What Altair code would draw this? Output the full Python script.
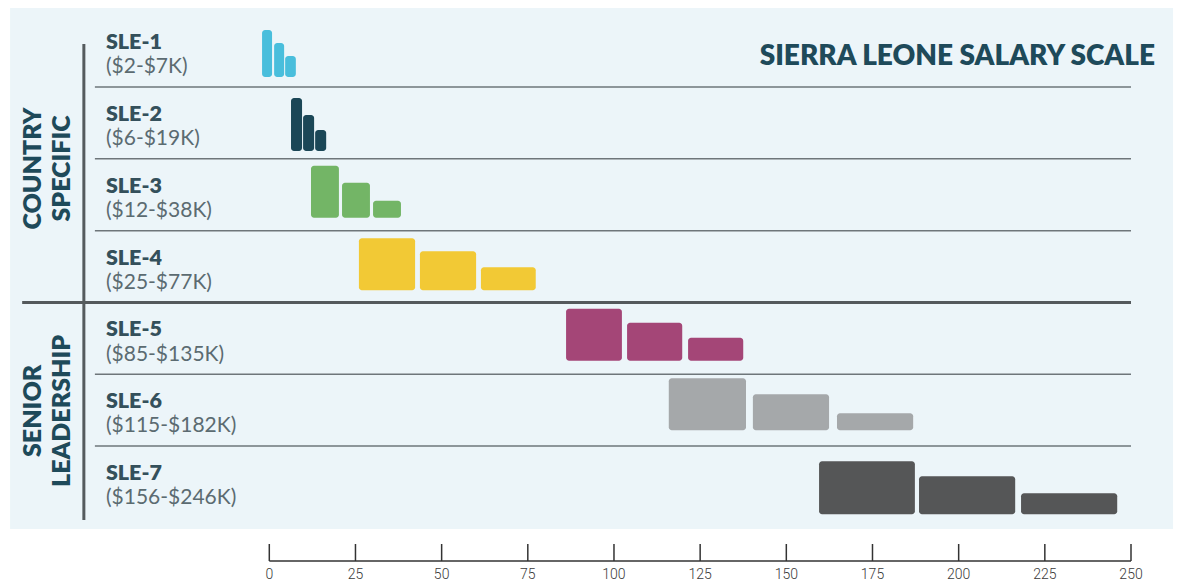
import altair as alt
import pandas as pd

# ---------------- data ----------------
grades = ["SLE-1", "SLE-2", "SLE-3", "SLE-4", "SLE-5", "SLE-6", "SLE-7"]
ranges = ["($2-$7K)", "($6-$19K)", "($12-$38K)", "($25-$77K)",
          "($85-$135K)", "($115-$182K)", "($156-$246K)"]
colors = ["#49BEDC", "#1B4757", "#73B566", "#F2C935", "#A44677", "#A5A8AA", "#555657"]

# three bars per grade (salary thousands)
bar_start = [[-2.1, 1.4, 4.6], [6.3, 9.8, 13.3], [12.1, 21.1, 30.1],
             [26.0, 43.7, 61.4], [86.1, 103.8, 121.5],
             [115.9, 140.3, 164.7], [159.5, 188.5, 218.1]]
bar_end = [[0.8, 4.3, 7.7], [9.5, 13.0, 16.5], [20.2, 29.2, 38.2],
           [42.3, 60.0, 77.3], [102.3, 119.8, 137.5],
           [138.3, 162.4, 186.8], [187.3, 216.4, 246.0]]
# relative bar heights (fraction of a row)
bar_height = [[0.654, 0.473, 0.292], [0.738, 0.501, 0.292], [0.724, 0.487, 0.237],
              [0.724, 0.543, 0.320], [0.724, 0.529, 0.320], [0.724, 0.501, 0.237],
              [0.738, 0.529, 0.292]]

group_lines = [["COUNTRY", "SPECIFIC"], ["SENIOR", "LEADERSHIP"]]
tick_values = [0, 25, 50, 75, 100, 125, 150, 175, 200, 225, 250]
title_text = "SIERRA LEONE SALARY SCALE"

# ---------------- layout constants ----------------
BASE = [0.86, 0.89, 0.82, 0.83, 0.81, 0.78, 0.95]
TEXT_DARK = "#1E4A5A"
LABEL_DARK = "#34505B"
LABEL_LIGHT = "#5B6B71"
FONT = "Lato"
AXIS_FONT = "Roboto"

xs = alt.Scale(domain=[0, 250], nice=False, zero=False)
ys = alt.Scale(domain=[-0.1, 7.6], reverse=True, nice=False, zero=False)


def X(f):
    return alt.X(f, scale=xs, axis=None)


def Y(f):
    return alt.Y(f, scale=ys, axis=None)


rows = []
for r, g in enumerate(grades):
    for i in range(3):
        rows.append({
            "grade": g,
            "start": bar_start[r][i],
            "end": bar_end[r][i],
            "top": r + BASE[r] - bar_height[r][i],
            "bottom": r + BASE[r],
        })
bars_df = pd.DataFrame(rows)

panel = alt.Chart(pd.DataFrame({"px": [-75.2], "px2": [262.2], "py": [-0.1], "py2": [7.154]})
                  ).mark_rect(color="#ECF5F9").encode(
    x=X("px:Q"), x2="px2:Q", y=Y("py:Q"), y2="py2:Q")

bars = alt.Chart(bars_df).mark_rect(cornerRadius=3).encode(
    x=X("start:Q"), x2="end:Q", y=Y("top:Q"), y2="bottom:Q",
    color=alt.Color("grade:N", scale=alt.Scale(domain=grades, range=colors), legend=None),
)

# axis drawn from tick values
tick_df = pd.DataFrame({"t": tick_values, "ty": 7.363, "ty2": 7.6, "ly": 7.795,
                        "lab": [str(v) for v in tick_values]})
ticks = alt.Chart(tick_df).mark_rule(color="#333333", strokeWidth=1.5).encode(
    x=X("t:Q"), y=Y("ty:Q"), y2="ty2:Q")
baseline = alt.Chart(pd.DataFrame({"bx": [0.0], "bx2": [250.0], "by": [7.6]})).mark_rule(
    color="#333333", strokeWidth=1.5).encode(x=X("bx:Q"), x2="bx2:Q", y=Y("by:Q"))
tick_labels = alt.Chart(tick_df).mark_text(
    align="center", baseline="middle", font=AXIS_FONT, fontSize=14, fontWeight=300,
    color="#3a3a3a").encode(x=X("t:Q"), y=Y("ly:Q"), text="lab:N")

thin_sep = alt.Chart(pd.DataFrame({"sy": [1, 2, 3, 5, 6], "sx": -50.6, "sx2": 250.0})).mark_rule(
    color="#6E767A", strokeWidth=1.5).encode(y=Y("sy:Q"), x=X("sx:Q"), x2="sx2:Q")
thick_sep = alt.Chart(pd.DataFrame({"sy": [4], "sx": [-71.7], "sx2": [250.0]})).mark_rule(
    color="#54595C", strokeWidth=3).encode(y=Y("sy:Q"), x=X("sx:Q"), x2="sx2:Q")
vline = alt.Chart(pd.DataFrame({"vx": [-53.8], "vy": [0.401], "vy2": [7.029]})).mark_rule(
    color="#555B5E", strokeWidth=3).encode(x=X("vx:Q"), y=Y("vy:Q"), y2="vy2:Q")

lab_df = pd.DataFrame({
    "grade": grades, "rng": ranges,
    "lx": -47.4,
    "gy": [r + 0.39 for r in range(len(grades))],
    "ry": [r + 0.725 for r in range(len(grades))],
})
grade_text = alt.Chart(lab_df).mark_text(
    align="left", baseline="middle", font=FONT, fontSize=21.5, fontWeight=800,
    color=LABEL_DARK).encode(x=X("lx:Q"), y=Y("gy:Q"), text="grade:N")
range_text = alt.Chart(lab_df).mark_text(
    align="left", baseline="middle", font=FONT, fontSize=21,
    color=LABEL_LIGHT).encode(x=X("lx:Q"), y=Y("ry:Q"), text="rng:N")

g_rows = []
group_centers = [2.135, 5.51]
line_x = [-68.7, -60.0]
for gi, lines in enumerate(group_lines):
    for li, t in enumerate(lines):
        g_rows.append({"gt": t, "gx": line_x[li], "gyy": group_centers[gi]})
group_text = alt.Chart(pd.DataFrame(g_rows)).mark_text(
    align="center", baseline="middle", angle=270, font=FONT, fontSize=25,
    fontWeight=800, color=TEXT_DARK).encode(x=X("gx:Q"), y=Y("gyy:Q"), text="gt:N")

title = alt.Chart(pd.DataFrame({"tt": [title_text], "tx": [256.96], "tyy": [0.582]})).mark_text(
    align="right", baseline="middle", font=FONT, fontSize=28, fontWeight=800,
    color=TEXT_DARK).encode(x=X("tx:Q"), y=Y("tyy:Q"), text="tt:N")

chart = alt.layer(panel, thin_sep, thick_sep, vline, bars, ticks, baseline, tick_labels,
                  grade_text, range_text, group_text, title).properties(
    width=861.7, height=553,
    autosize=alt.AutoSizeParams(type="none"),
    padding={"left": 261.3, "top": 0, "right": 44, "bottom": 22},
    background="white",
).configure_view(stroke=None)

chart.save("out.html", embed_options={"renderer": "svg", "actions": False})
